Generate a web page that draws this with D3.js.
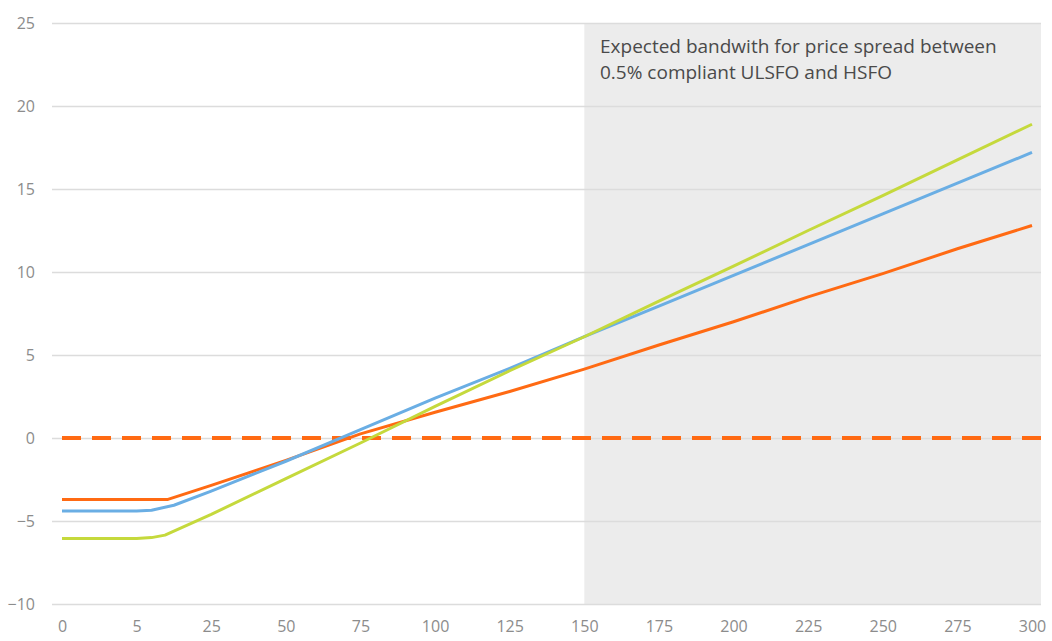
<!DOCTYPE html>
<html>
<head>
<meta charset="utf-8">
<script src="https://cdn.jsdelivr.net/npm/d3@7"></script>
<style>
  body { margin: 0; background: #fff; }
  svg { display: block; }
  text { font-family: "Open Sans", sans-serif; }
</style>
</head>
<body>
<svg id="chart" width="1052" height="641"></svg>
<script>
// x axis labels, equally spaced (category axis)
var xLabels = ["0", "5", "25", "50", "75", "100", "125", "150", "175", "200", "225", "250", "275", "300"];
var yTicks = [-10, -5, 0, 5, 10, 15, 20, 25];

// positions along the category axis (in label steps) and values for each series
var orangeX = [0, 1, 1.42, 2, 2.6, 3, 4, 5, 6, 7, 8, 9, 10, 11, 12, 13];
var orangeY = [-3.7, -3.7, -3.7, -2.85, -1.95, -1.35, 0.25, 1.55, 2.8, 4.15, 5.6, 7.0, 8.5, 9.9, 11.4, 12.8];

var blueX = [0, 1, 1.2, 1.5, 2, 3, 4, 5, 6, 7, 8, 9, 10, 11, 12, 13];
var blueY = [-4.4, -4.4, -4.35, -4.05, -3.2, -1.4, 0.5, 2.4, 4.2, 6.1, 7.95, 9.8, 11.65, 13.5, 15.35, 17.2];

var greenX = [0, 1, 1.2, 1.38, 2, 3, 4, 5, 6, 7, 8, 9, 10, 11, 12, 13];
var greenY = [-6.05, -6.05, -6.0, -5.85, -4.6, -2.45, -0.3, 1.9, 4.05, 6.1, 8.25, 10.35, 12.5, 14.6, 16.75, 18.9];

var bandStart = 7; // "150"
var note = ["Expected bandwith for price spread between", "0.5% compliant ULSFO and HSFO"];

var svg = d3.select("#chart");

var x = d3.scaleLinear().domain([0, xLabels.length - 1]).range([62, 1032]);
var y = d3.scaleLinear().domain([-10, 25]).range([604, 23]);

// shaded band
svg.append("rect")
    .attr("x", x(bandStart))
    .attr("y", y(25))
    .attr("width", 1041 - x(bandStart))
    .attr("height", y(-10) - y(25))
    .attr("fill", "#ececec");

// gridlines + y labels
var yAxis = d3.axisLeft(y).tickValues(yTicks).tickSize(-(1041 - 52)).tickPadding(17);
svg.append("g")
    .attr("transform", "translate(52,0)")
    .call(yAxis)
    .call(function(g) {
      g.select(".domain").remove();
      g.selectAll(".tick line").attr("stroke", "#dcdcdc").attr("stroke-width", 1.5);
      g.selectAll(".tick text").attr("fill", "#8c8c8c").style("font-size", "16px");
    });

// x labels
var xAxis = d3.axisBottom(x).tickValues(d3.range(xLabels.length))
    .tickFormat(function(d) { return xLabels[d]; }).tickSize(0).tickPadding(10);
svg.append("g")
    .attr("transform", "translate(0,611)")
    .call(xAxis)
    .call(function(g) {
      g.select(".domain").remove();
      g.selectAll(".tick text").attr("fill", "#8c8c8c").style("font-size", "16px");
    });

// zero line dashed
svg.append("line")
    .attr("x1", x(0)).attr("x2", 1041)
    .attr("y1", y(0)).attr("y2", y(0))
    .attr("stroke", "#ff6a13")
    .attr("stroke-width", 4)
    .attr("stroke-dasharray", "19,11");

var line = d3.line()
    .x(function(d) { return x(d[0]); })
    .y(function(d) { return y(d[1]); });

var series = [
  { xs: orangeX, ys: orangeY, color: "#ff6a13" },
  { xs: blueX, ys: blueY, color: "#6aaee4" },
  { xs: greenX, ys: greenY, color: "#c5d93c" }
];

svg.selectAll("path.series")
  .data(series)
  .enter().append("path")
    .attr("class", "series")
    .attr("fill", "none")
    .attr("stroke", function(d) { return d.color; })
    .attr("stroke-width", 3)
    .attr("stroke-linejoin", "round")
    .attr("d", function(d) { return line(d3.zip(d.xs, d.ys)); });

// annotation
svg.append("text")
    .attr("x", 600)
    .attr("y", 53)
    .attr("fill", "#4a4a4a")
    .style("font-size", "19px")
    .selectAll("tspan")
    .data(note)
    .enter().append("tspan")
      .attr("x", 600)
      .attr("dy", function(d, i) { return i ? 26 : 0; })
      .text(function(d) { return d; });
</script>
</body>
</html>
